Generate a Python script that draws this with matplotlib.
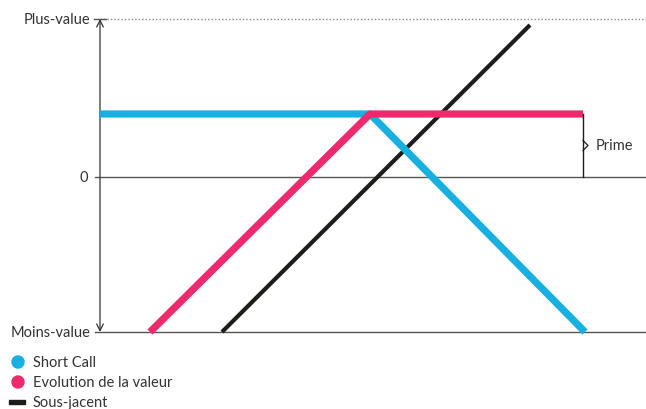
import matplotlib.pyplot as plt
import matplotlib.patches as mpatches

plt.rcParams['font.family'] = ['Lato', 'DejaVu Sans']

# payoff values (pixel-like units, 0 = break-even)
short_call_x = [100, 370, 585]
short_call_y = [63, 63, -155]
evolution_x = [150, 370, 583]
evolution_y = [-155, 63, 63]
underlying_x = [222, 530]
underlying_y = [-155, 152]

top_val = 158
bottom_val = -155
premium = 63

labels = ['Short Call', 'Evolution de la valeur', 'Sous-jacent']
colors = ['#17b0e0', '#ef2a6c', '#1d1d1b']

fig = plt.figure(figsize=(6.46, 4.10), dpi=100)
ax = fig.add_axes([0, 0, 1, 1])
ax.set_xlim(0, 646)
ax.set_ylim(-232, 178)
ax.axis('off')

fs = 10.5
grey = '#555555'
# reference lines
ax.plot([95, 646], [0, 0], color=grey, lw=1.0)
ax.plot([95, 646], [bottom_val, bottom_val], color=grey, lw=1.0)
ax.plot([100, 646], [top_val, top_val], color='#888888', lw=1.0, ls=(0, (1, 1.5)))
ax.plot([94, 106], [top_val, top_val], color=grey, lw=1.0)

# vertical double arrow
ax.annotate('', xy=(100, top_val), xytext=(100, bottom_val),
            arrowprops=dict(arrowstyle='<->', color='#333333', lw=0.9,
                            mutation_scale=12, shrinkA=0, shrinkB=0))

ax.text(90, top_val, 'Plus-value', ha='right', va='center', fontsize=fs, color='#333333')
ax.text(88, 0, '0', ha='right', va='center', fontsize=fs, color='#333333')
ax.text(90, bottom_val, 'Moins-value', ha='right', va='center', fontsize=fs, color='#333333')

# payoff lines
ax.plot(underlying_x, underlying_y, color=colors[2], lw=3.0, solid_capstyle='butt', zorder=3)
ax.plot(short_call_x, short_call_y, color=colors[0], lw=5.2, solid_capstyle='butt', zorder=4)
ax.plot(evolution_x, evolution_y, color=colors[1], lw=5.2, solid_capstyle='butt', zorder=5)

# premium bracket
ax.plot([583, 583], [0, premium], color='#1d1d1b', lw=1.0, zorder=6)
ax.plot([583, 588, 583], [premium / 2 + 5, premium / 2, premium / 2 - 5],
        color='#1d1d1b', lw=0.9, zorder=6)
ax.text(596, premium / 2, 'Prime', ha='left', va='center', fontsize=fs, color='#333333')

# legend
leg_y = [-185, -205, -225]
ax.scatter([18, 18], leg_y[:2], s=75, color=colors[:2], zorder=6, clip_on=False)
ax.add_patch(mpatches.Rectangle((9, leg_y[2] - 2), 16, 4, color=colors[2], clip_on=False))
for yy, lab in zip(leg_y, labels):
    ax.text(33, yy, lab, ha='left', va='center', fontsize=fs, color='#333333')

fig.savefig('out.png', dpi=100)
